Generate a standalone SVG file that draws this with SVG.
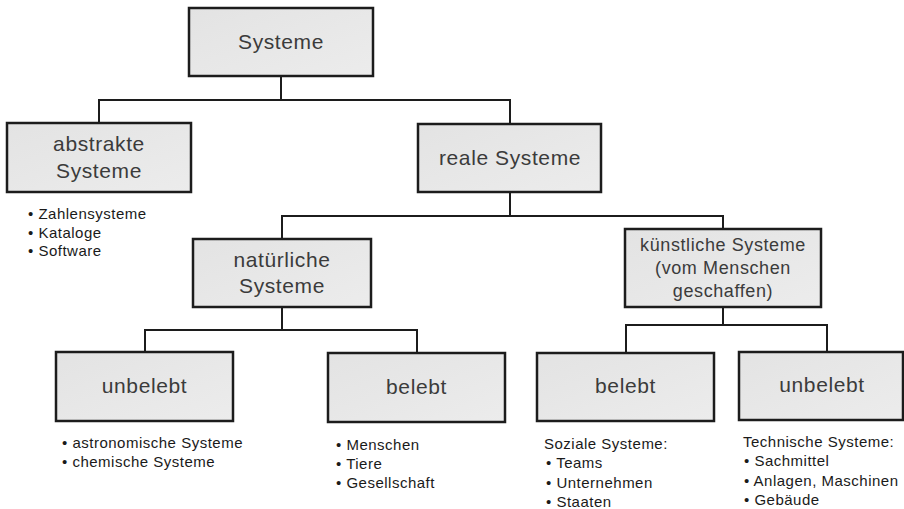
<svg xmlns="http://www.w3.org/2000/svg" width="904" height="509" viewBox="0 0 904 509">
  <defs>
    <linearGradient id="boxFill" x1="0" y1="0" x2="1" y2="1">
      <stop offset="0" stop-color="#e3e3e3"/>
      <stop offset="1" stop-color="#ececec"/>
    </linearGradient>
    <style>
      .box { fill: url(#boxFill); stroke: #1c1c1c; stroke-width: 2.5; }
      .label { font-family: "Liberation Sans", Arial, sans-serif; font-size: 21px; letter-spacing: 0.6px; fill: #3b3b3b; text-anchor: middle; }
      .label.small { font-size: 18px; }
      .note { font-family: "Liberation Sans", Arial, sans-serif; font-size: 15px; letter-spacing: 0.5px; fill: #1a1a1a; }
      .conn { fill: none; stroke: #1c1c1c; stroke-width: 2; }
    </style>
  </defs>
  <rect width="904" height="509" fill="#ffffff"/>

  <!-- connectors -->
  <g id="connectors">
    <path class="conn" d="M281,76 V100"/>
    <path class="conn" d="M99,123 V100 H510 V124"/>
    <path class="conn" d="M510,192 V216"/>
    <path class="conn" d="M282,239 V216 H723 V229"/>
    <path class="conn" d="M282,307 V330"/>
    <path class="conn" d="M145,352 V330 H417 V353"/>
    <path class="conn" d="M723,307 V325"/>
    <path class="conn" d="M626,353 V325 H827 V352"/>
  </g>

  <g id="systeme">
    <rect class="box" x="189" y="8" width="184" height="68"/>
    <text class="label" x="281" y="48.5">Systeme</text>
  </g>

  <g id="abstrakte-systeme">
    <rect class="box" x="7" y="123" width="184" height="69"/>
    <text class="label" x="99" y="151">abstrakte</text>
    <text class="label" x="99" y="178">Systeme</text>
    <text class="note" x="28" y="219">• Zahlensysteme</text>
    <text class="note" x="28" y="237.5">• Kataloge</text>
    <text class="note" x="28" y="256">• Software</text>
  </g>

  <g id="reale-systeme">
    <rect class="box" x="418" y="124" width="183" height="68"/>
    <text class="label" x="510" y="165">reale Systeme</text>
  </g>

  <g id="natuerliche-systeme">
    <rect class="box" x="193" y="239" width="178" height="68"/>
    <text class="label" x="282" y="267">natürliche</text>
    <text class="label" x="282" y="293">Systeme</text>
  </g>

  <g id="kuenstliche-systeme">
    <rect class="box" x="625" y="229" width="196" height="78"/>
    <text class="label small" x="723" y="251">künstliche Systeme</text>
    <text class="label small" x="723" y="274">(vom Menschen</text>
    <text class="label small" x="723" y="297">geschaffen)</text>
  </g>

  <g id="natuerlich-unbelebt">
    <rect class="box" x="56" y="352" width="177" height="69"/>
    <text class="label" x="144.5" y="393">unbelebt</text>
    <text class="note" x="62" y="447.5">• astronomische Systeme</text>
    <text class="note" x="62" y="466.5">• chemische Systeme</text>
  </g>

  <g id="natuerlich-belebt">
    <rect class="box" x="328" y="353" width="177" height="69"/>
    <text class="label" x="416.5" y="393.5">belebt</text>
    <text class="note" x="336" y="449.5">• Menschen</text>
    <text class="note" x="336" y="468.5">• Tiere</text>
    <text class="note" x="336" y="487.5">• Gesellschaft</text>
  </g>

  <g id="kuenstlich-belebt">
    <rect class="box" x="537" y="353" width="177" height="68"/>
    <text class="label" x="625.5" y="393">belebt</text>
    <text class="note" x="544" y="448.5">Soziale Systeme:</text>
    <text class="note" x="546" y="468">• Teams</text>
    <text class="note" x="546" y="487.5">• Unternehmen</text>
    <text class="note" x="546" y="506.5">• Staaten</text>
  </g>

  <g id="kuenstlich-unbelebt">
    <rect class="box" x="739" y="352" width="164" height="68"/>
    <text class="label" x="822" y="392">unbelebt</text>
    <text class="note" x="743" y="446.5">Technische Systeme:</text>
    <text class="note" x="744" y="466">• Sachmittel</text>
    <text class="note" x="744" y="485.5">• Anlagen, Maschinen</text>
    <text class="note" x="744" y="505">• Gebäude</text>
  </g>
</svg>
